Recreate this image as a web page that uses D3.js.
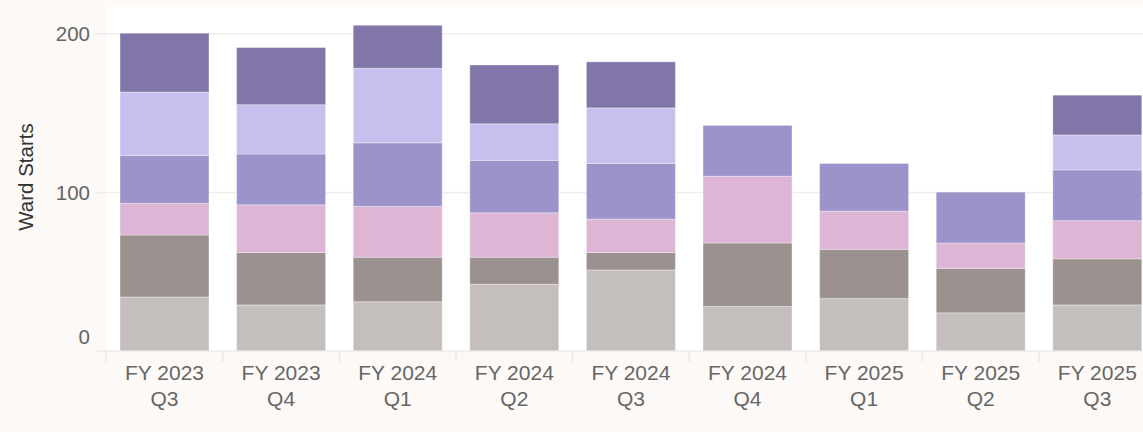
<!DOCTYPE html>
<html>
<head>
<meta charset="utf-8">
<script src="https://cdn.jsdelivr.net/npm/d3@7"></script>
<style>
  html, body { margin: 0; padding: 0; background: #fcf9f6; }
  svg { display: block; }
  text { font-family: "Liberation Sans", Arial, Helvetica, sans-serif; }
</style>
</head>
<body>
<svg id="chart" width="1143" height="432"></svg>
<script>
// ---- data ----
const categories = ["FY 2023 Q3", "FY 2023 Q4", "FY 2024 Q1", "FY 2024 Q2", "FY 2024 Q3", "FY 2024 Q4", "FY 2025 Q1", "FY 2025 Q2", "FY 2025 Q3"];
const seriesNames = ["S1", "S2", "S3", "S4", "S5", "S6"];
const s1 = [34, 29, 31, 42, 51, 28, 33, 24, 29];
const s2 = [39, 33, 28, 17, 11, 40, 31, 28, 29];
const s3 = [20, 30, 32, 28, 21, 42, 24, 16, 24];
const s4 = [30, 32, 40, 33, 35, 32, 30, 32, 32];
const s5 = [40, 31, 47, 23, 35, 0, 0, 0, 22];
const s6 = [37, 36, 27, 37, 29, 0, 0, 0, 25];
const yTicks = [0, 100, 200];
const colors = ["#c4bfbc", "#9b918e", "#ddb5d5", "#9b93c9", "#c7c0ef", "#8175a9"];

const seriesValues = [s1, s2, s3, s4, s5, s6];
const rows = categories.map((c, i) => {
  const r = { cat: c };
  seriesNames.forEach((s, j) => r[s] = seriesValues[j][i]);
  return r;
});

const svg = d3.select("#chart");
const W = 1143, H = 432;
const plotLeft = 106.5, plotTop = 7, plotBottom = 351;

const x = d3.scaleBand()
  .domain(categories)
  .range([106.2, 106.2 + 116.6 * categories.length])
  .paddingInner(0.237)
  .paddingOuter(0.1185);

const y = d3.scaleLinear().domain([0, 216.5]).range([plotBottom, plotTop]);

// plot background
svg.append("rect")
  .attr("x", plotLeft).attr("y", plotTop)
  .attr("width", W - plotLeft).attr("height", plotBottom - plotTop)
  .attr("fill", "#ffffff");

// gridlines + y ticks
const yAxis = d3.axisLeft(y).tickValues(yTicks).tickSize(10).tickPadding(6);
const gy = svg.append("g").attr("transform", `translate(${plotLeft - 0.5},0)`).call(yAxis);
gy.select(".domain").remove();
gy.selectAll(".tick line").attr("stroke", "#eeeceb").attr("stroke-width", 1.5);
gy.selectAll(".tick").append("line")
  .attr("x1", 0).attr("x2", W).attr("stroke", "#efeeed").attr("stroke-width", 1.5);
gy.selectAll(".tick text")
  .attr("fill", "#666")
  .style("font-size", "20.5px")
  .attr("dy", d => d === 0 ? "-0.35em" : "0.36em");

// bars
const stack = d3.stack().keys(seriesNames);
const stacked = stack(rows);
svg.append("g").selectAll("g")
  .data(stacked)
  .join("g")
  .attr("fill", (d, i) => colors[i])
  .selectAll("rect")
  .data(d => d.filter(p => p[1] - p[0] > 0))
  .join("rect")
  .attr("x", d => x(d.data.cat))
  .attr("width", x.bandwidth())
  .attr("y", d => y(d[1]))
  .attr("height", d => y(d[0]) - y(d[1]))
  .attr("stroke", "#ffffff")
  .attr("stroke-opacity", 0.35)
  .attr("stroke-width", 1);

// x axis ticks at band boundaries
const gx = svg.append("g").attr("transform", `translate(0,${plotBottom})`);
gx.append("line").attr("x1", 97).attr("x2", W).attr("y1", 0).attr("y2", 0)
  .attr("stroke", "#efebe8").attr("stroke-width", 1);
const step = x.step();
const bounds = categories.map(c => x(c) - x.paddingOuter() * step).concat([x(categories[categories.length - 1]) + x.bandwidth() + x.paddingOuter() * step]);
gx.selectAll("line.tk").data(bounds).join("line").attr("class", "tk")
  .attr("x1", d => d).attr("x2", d => d).attr("y1", 0).attr("y2", 11)
  .attr("stroke", "#ece8e5").attr("stroke-width", 1.5);

const labels = gx.selectAll("text.lbl").data(categories).join("text").attr("class", "lbl")
  .attr("text-anchor", "middle")
  .attr("fill", "#666")
  .style("font-size", "21px")
  .attr("transform", d => `translate(${x(d) + x.bandwidth() / 2},0)`);
labels.append("tspan").attr("x", 0).attr("y", 29).text(d => d.split(" ").slice(0, 2).join(" "));
labels.append("tspan").attr("x", 0).attr("y", 55).text(d => d.split(" ")[2]);

// y title
svg.append("text")
  .attr("transform", "translate(33,177) rotate(-90)")
  .attr("text-anchor", "middle")
  .attr("fill", "#333")
  .style("font-size", "20.5px")
  .text("Ward Starts");
</script>
</body>
</html>
